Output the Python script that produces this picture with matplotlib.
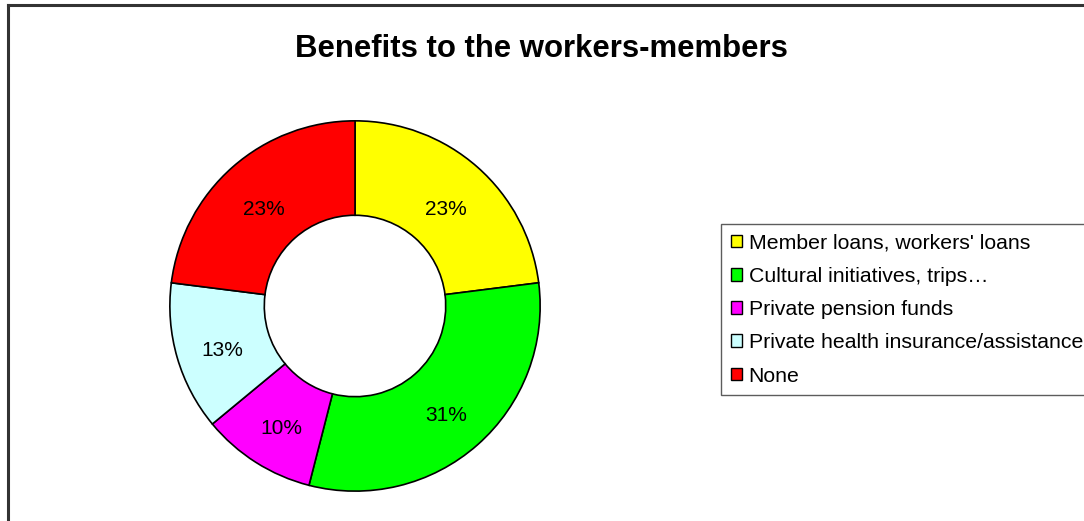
import matplotlib.pyplot as plt
from matplotlib.lines import Line2D
from matplotlib.patches import Patch

plt.rcParams['font.family'] = ['Liberation Sans', 'DejaVu Sans']

categories = ["Member loans, workers' loans", "Cultural initiatives, trips…",
              "Private pension funds", "Private health insurance/assistance", "None"]
shares = [23, 31, 10, 13, 23]
colors = ['#ffff00', '#00ff00', '#ff00ff', '#ccffff', '#ff0000']
title = 'Benefits to the workers-members'

fig = plt.figure(figsize=(10.84, 5.21), dpi=100)
fig.patch.set_facecolor('white')

# outer chart frame (only top and left edges are visible)
fig.add_artist(Line2D([0.0074, 0.0074], [0, 0.9904], color='#333333', lw=2.2))
fig.add_artist(Line2D([0.0074, 1.0], [0.9904, 0.9904], color='#333333', lw=2.2))

ax = fig.add_axes([0.155, 0.0537, 0.345, 0.718])
wedges, texts, autotexts = ax.pie(
    shares, colors=colors, startangle=90, counterclock=False,
    wedgeprops=dict(width=0.51, edgecolor='black', linewidth=1.2),
    autopct='%1.0f%%', pctdistance=0.745,
    textprops=dict(fontsize=15, color='black'))
# Excel puts the labels a touch lower than the ring midline
for t in autotexts:
    x, y = t.get_position()
    t.set_position((x, y - 0.035))
ax.set_xlim(-1.01, 1.01)
ax.set_ylim(-1.01, 1.01)
ax.set_aspect('equal')
ax.axis('off')

fig.text(541 / 1084, 1 - 49 / 521, title, ha='center', va='center',
         fontsize=22.4, fontweight='bold')

handles = [Patch(facecolor=c, edgecolor='black', linewidth=1.0) for c in colors]
leg = fig.legend(handles, categories, loc='upper left',
                 bbox_to_anchor=(721 / 1084, 1 - 224 / 521), borderaxespad=0,
                 fontsize=15.3, frameon=True, fancybox=False, shadow=False,
                 labelspacing=0.67, handlelength=0.55, handleheight=0.55,
                 handletextpad=0.3, borderpad=0.45)
leg.get_frame().set_edgecolor('#333333')
leg.get_frame().set_linewidth(1.0)

plt.savefig('out.png', dpi=100)
plt.close()
